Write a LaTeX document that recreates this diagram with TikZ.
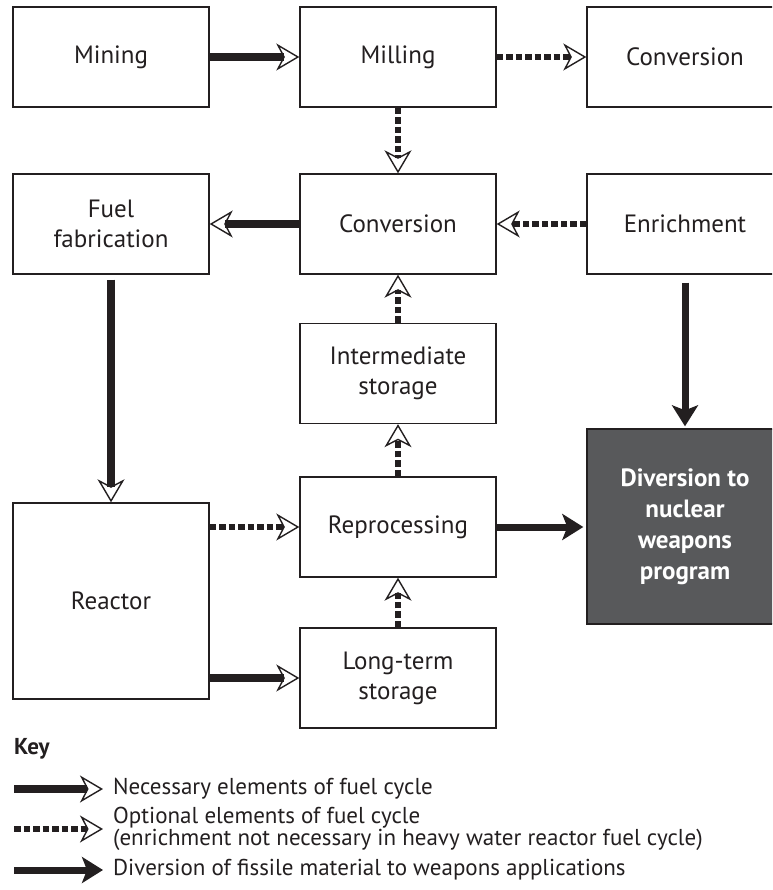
\documentclass[tikz,border=0pt]{standalone}
\usepackage{fontspec}
\setmainfont{PT Sans}
\usetikzlibrary{arrows.meta}
\definecolor{ink}{HTML}{231F20}
\definecolor{divgray}{HTML}{58595B}
\tikzset{
  box/.style={draw=ink, line width=1.4pt, minimum width=196pt, minimum height=100pt,
    align=center, font=\fontsize{25}{30}\selectfont, text=ink, inner sep=0pt},
  opentip/.style={-{Stealth[open, length=23pt, width=27pt, inset=7pt, line width=1.4pt]}},
  nec/.style={draw=ink, line width=8pt, opentip},
  opt/.style={draw=ink, line width=6.5pt, dash pattern=on 6.5pt off 3pt, opentip},
  div/.style={draw=ink, line width=7pt, -{Stealth[length=21pt, width=26pt, inset=5pt]}},
  keytext/.style={anchor=west, align=left, text=ink, inner sep=0pt, font=\fontsize{23}{20}\selectfont},
}
\begin{document}
\begin{tikzpicture}[x=1pt,y=-1pt]
\useasboundingbox (0,0) rectangle (772,890);
\clip (0,0) rectangle (772,890);
\fill[white] (0,0) rectangle (772,890);

\node[box] (mining) at (111,57) {Mining};
\node[box] (milling) at (398,57) {Milling};
\node[box] (conv1) at (685,57) {Conversion};
\node[box] (fuelfab) at (111,224) {Fuel\\fabrication};
\node[box] (conv2) at (398,224) {Conversion};
\node[box] (enrich) at (685,224) {Enrichment};
\node[box] (inter) at (398,373.5) {Intermediate\\storage};
\node[box] (repro) at (398,527) {Reprocessing};
\node[box, minimum height=196pt] (reactor) at (111,601) {Reactor};
\node[box] (long) at (398,678) {Long-term\\storage};
\node[box, fill=divgray, minimum height=195pt, text=white, font=\bfseries\fontsize{25}{31}\selectfont] (divert) at (685,526.5) {Diversion to\\nuclear\\weapons\\program};

\draw[nec] (mining) -- (milling);
\draw[opt] (milling) -- (conv1);
\draw[opt] (milling) -- (conv2);
\draw[nec] (conv2) -- (fuelfab);
\draw[opt] (enrich) -- (conv2);
\draw[opt] (inter) -- (conv2);
\draw[nec, shorten <=5pt] (fuelfab) -- (reactor);
\draw[div, shorten <=8pt, shorten >=2pt] (enrich) -- (divert);
\draw[opt] (reactor.east |- repro.west) -- (repro.west);
\draw[opt] (repro) -- (inter);
\draw[div, shorten >=3pt] (repro.east) -- (repro.east -| divert.west);
\draw[opt] (long) -- (repro);
\draw[nec] (reactor.east |- long.west) -- (long.west);

\node[anchor=west, inner sep=0pt, text=ink, font=\bfseries\fontsize{23}{26}\selectfont] (key) at (14,749) {Key};
\coordinate (k1a) at (14,789); \coordinate (k1b) at (103,789);
\coordinate (k2a) at (14,829); \coordinate (k2b) at (103,829);
\coordinate (k3a) at (14,870); \coordinate (k3b) at (103,870);
\draw[nec] (k1a) -- (k1b);
\draw[opt] (k2a) -- (k2b);
\draw[div] (k3a) -- (k3b);
\node[keytext] (t1) at (113,789) {Necessary elements of fuel cycle};
\node[keytext] (t2) at (113,829) {Optional elements of fuel cycle\\(enrichment not necessary in heavy water reactor fuel cycle)};
\node[keytext] (t3) at (113,870) {Diversion of fissile material to weapons applications};
\end{tikzpicture}
\end{document}
